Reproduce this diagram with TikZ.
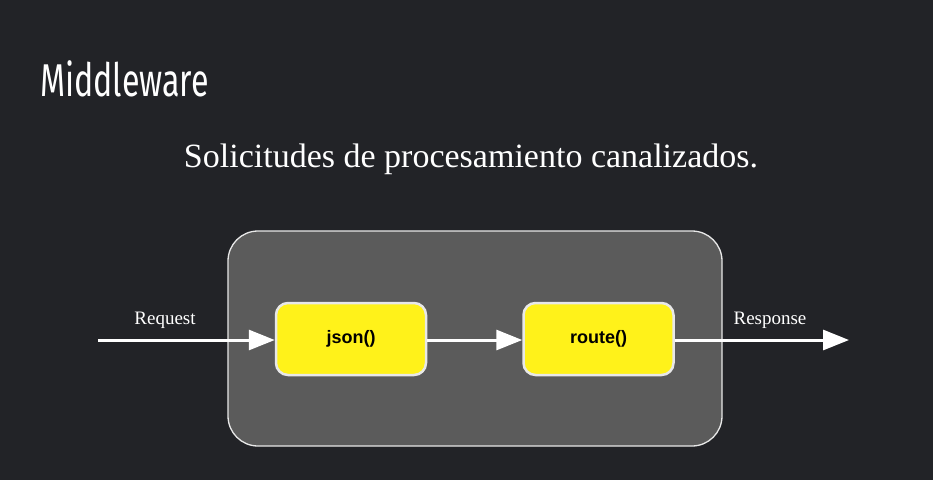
\documentclass[tikz,border=0pt]{standalone}
\usepackage{fontspec}
\setmainfont{Liberation Serif}
\newfontfamily\titlefont[FakeStretch=0.7]{Fira Sans}
\newfontfamily\boxfont{Liberation Sans}
\usetikzlibrary{arrows.meta}
\definecolor{bgc}{HTML}{222327}
\definecolor{panel}{HTML}{5B5B5B}
\definecolor{ylw}{HTML}{FFF21A}
\definecolor{edge}{HTML}{E8E8E8}
\begin{document}
\begin{tikzpicture}[x=1pt,y=-1pt,
  stage/.style={draw=edge,line width=2.5pt,fill=ylw,rounded corners=12pt,
    minimum width=150pt,minimum height=72pt,inner sep=0pt,
    font=\boxfont\bfseries\fontsize{18}{20}\selectfont,text=black},
  flow/.style={white,line width=3pt,-{Triangle[length=26pt,width=20pt]}},
  lbl/.style={text=white,font=\fontsize{19}{20}\selectfont,inner sep=0pt,anchor=base}]
\fill[bgc] (0,0) rectangle (933,480);
\useasboundingbox (0,0) rectangle (933,480);
\node[anchor=base west,inner sep=0pt,text=white,font=\titlefont\fontsize{46}{50}\selectfont] (title) at (40,96) {Middleware};
\node[anchor=base,inner sep=0pt,text=white,font=\fontsize{34}{38}\selectfont] (sub) at (471,167) {Solicitudes de procesamiento canalizados.};
\node[draw=edge,line width=1.3pt,fill=panel,rounded corners=30pt,minimum width=494pt,minimum height=215pt,inner sep=0pt] (pipe) at (475,338.5) {};
\node[stage] (json) at (351,339) {json()};
\node[stage] (route) at (598.5,339) {route()};
\coordinate (in) at (98,340);
\coordinate (out) at (849,340);
\draw[flow] (in) -- (json.west |- in);
\draw[flow] (json.east |- in) -- (route.west |- in);
\draw[flow] (route.east |- in) -- (out);
\node[lbl] (req) at (165,324) {Request};
\node[lbl] (resp) at (770,324) {Response};
\end{tikzpicture}
\end{document}
